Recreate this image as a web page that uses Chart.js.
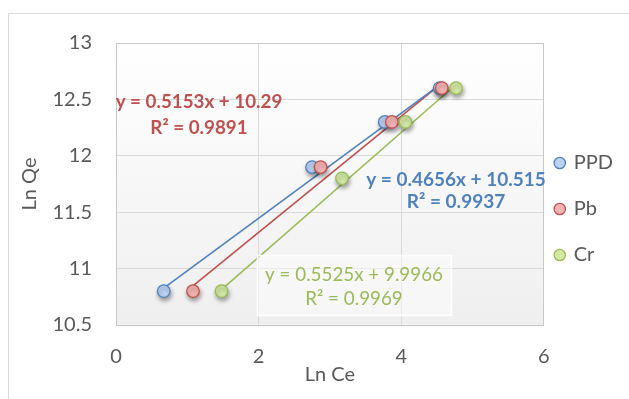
<!DOCTYPE html>
<html>
<head>
<meta charset="utf-8">
<script src="https://cdn.jsdelivr.net/npm/chart.js@4/dist/chart.umd.min.js"></script>
<style>
  html, body { margin: 0; padding: 0; background: #ffffff; }
  #wrap { width: 629px; height: 399px; position: relative; }
</style>
</head>
<body>
<div id="wrap"><canvas id="c" width="629" height="399"></canvas></div>
<script>
// Series names
const seriesNames = ['PPD', 'Pb', 'Cr'];

// Ln Ce values per series
const ppdX = [0.67, 2.75, 3.77, 4.54];
const pbX  = [1.08, 2.87, 3.87, 4.57];
const crX  = [1.48, 3.17, 4.06, 4.77];

// Ln Qe values per series
const ppdY = [10.8, 11.9, 12.3, 12.6];
const pbY  = [10.8, 11.9, 12.3, 12.6];
const crY  = [10.8, 11.8, 12.3, 12.6];

// Linear trend coefficients (slope, intercept) and R²
const slopes     = [0.4656, 0.5153, 0.5525];
const intercepts = [10.515, 10.29, 9.9966];
const rSquared   = ['0.9937', '0.9891', '0.9969'];

// Axis ticks
const xTicks = [0, 2, 4, 6];
const yTicks = [10.5, 11, 11.5, 12, 12.5, 13];

const lineColors = ['#4f81bd', '#c0504d', '#9bbb59'];
const fillColors = ['#bcd2f1', '#f3b3b2', '#d2e8a4'];

const xs = [ppdX, pbX, crX];
const ys = [ppdY, pbY, crY];

const toPoints = (xArr, yArr) => xArr.map((x, i) => ({ x: x, y: yArr[i] }));

function trendPoints(k) {
  const lo = Math.min(...xs[k]);
  const hi = Math.max(...xs[k]);
  return [lo, hi].map(x => ({ x: x, y: slopes[k] * x + intercepts[k] }));
}

function equationText(k) {
  return 'y = ' + slopes[k].toFixed(4) + 'x + ' + intercepts[k];
}

const markerOrder = [2, 1, 0];
const datasets = [];
seriesNames.forEach((name, k) => {
  datasets.push({
    label: name,
    data: toPoints(xs[k], ys[k]),
    showLine: false,
    pointRadius: 6.3,
    pointHoverRadius: 6.3,
    pointBorderWidth: 1.3,
    pointBackgroundColor: fillColors[k],
    pointBorderColor: lineColors[k],
    backgroundColor: fillColors[k],
    borderColor: lineColors[k],
    order: markerOrder[k],
    isMarker: true
  });
});
seriesNames.forEach((name, k) => {
  datasets.push({
    label: name + ' trend',
    data: trendPoints(k),
    showLine: true,
    pointRadius: 0,
    borderColor: lineColors[k],
    borderWidth: 1.6,
    order: 5 + k,
    isTrend: true
  });
});

// Equation labels placed over the plot area
const eqLayout = [
  { k: 0, cx: 456, y1: 180, y2: 202, bold: true,  size: 19,   box: false },
  { k: 1, cx: 199, y1: 102, y2: 128, bold: true,  size: 18.8, box: false },
  { k: 2, cx: 354, y1: 275, y2: 299, bold: false, size: 18.8, box: [257, 255, 194, 60] }
];

const framePlugin = {
  id: 'frame',
  beforeDraw(chart) {
    const ctx = chart.ctx;
    const a = chart.chartArea;
    ctx.save();
    ctx.strokeStyle = '#d9d9d9';
    ctx.lineWidth = 1;
    ctx.strokeRect(8.5, 13.5, 700, 500);
    const g = ctx.createLinearGradient(0, a.top, 0, a.bottom);
    g.addColorStop(0, '#ffffff');
    g.addColorStop(1, '#efefef');
    ctx.fillStyle = g;
    ctx.fillRect(a.left, a.top, a.right - a.left, a.bottom - a.top);
    ctx.restore();
  },
  beforeDatasetsDraw(chart) {
    const ctx = chart.ctx;
    const a = chart.chartArea;
    ctx.save();
    ctx.strokeStyle = '#c8c8c8';
    ctx.lineWidth = 1;
    ctx.strokeRect(Math.round(a.left) + 0.5, Math.round(a.top) + 0.5,
      Math.round(a.right - a.left) - 1, Math.round(a.bottom - a.top));
    ctx.restore();
  },
  beforeDatasetDraw(chart, args) {
    if (args.meta._dataset && args.meta._dataset.isMarker) {
      const ctx = chart.ctx;
      ctx.save();
      ctx.shadowColor = 'rgba(0,0,0,0.35)';
      ctx.shadowBlur = 4;
      ctx.shadowOffsetX = 1;
      ctx.shadowOffsetY = 3;
    }
  },
  afterDatasetDraw(chart, args) {
    if (args.meta._dataset && args.meta._dataset.isMarker) {
      chart.ctx.restore();
    }
  },
  afterDraw(chart) {
    const ctx = chart.ctx;
    ctx.save();
    ctx.textAlign = 'center';
    ctx.textBaseline = 'middle';
    eqLayout.forEach(e => {
      if (e.box) {
        ctx.fillStyle = 'rgba(255,255,255,0.45)';
        ctx.fillRect(e.box[0], e.box[1], e.box[2], e.box[3]);
        ctx.strokeStyle = '#ffffff';
        ctx.lineWidth = 1.5;
        ctx.strokeRect(e.box[0] + 0.5, e.box[1] + 0.5, e.box[2], e.box[3]);
      }
      ctx.fillStyle = lineColors[e.k];
      ctx.font = (e.bold ? 'bold ' : '') + e.size + 'px Lato, "Liberation Sans", sans-serif';
      ctx.fillText(equationText(e.k), e.cx, e.y1);
      ctx.fillText('R² = ' + rSquared[e.k], e.cx, e.y2);
    });
    ctx.restore();
  }
};

const tickFont = { family: 'Lato, "Liberation Sans", sans-serif', size: 20 };
const legendFont = { family: 'Lato, "Liberation Sans", sans-serif', size: 20, lineHeight: 1.7 };

new Chart(document.getElementById('c'), {
  type: 'scatter',
  data: { datasets: datasets },
  plugins: [framePlugin],
  options: {
    responsive: false,
    animation: false,
    devicePixelRatio: 1,
    layout: { padding: { left: 10, right: 6, top: 43, bottom: 10 } },
    plugins: {
      tooltip: { enabled: false },
      legend: {
        position: 'right',
        labels: {
          // one-line array text so each entry takes the font's full line height
          generateLabels: chart => Chart.defaults.plugins.legend.labels.generateLabels(chart)
            .filter(item => !datasets[item.datasetIndex].isTrend)
            .sort((a, b) => a.datasetIndex - b.datasetIndex)
            .map(item => Object.assign(item, { text: [item.text] })),
          usePointStyle: true,
          pointStyle: 'circle',
          boxWidth: 8,
          boxHeight: 8,
          padding: 12,
          color: '#595959',
          font: legendFont
        }
      }
    },
    scales: {
      x: {
        type: 'linear',
        min: xTicks[0],
        max: xTicks[xTicks.length - 1],
        afterBuildTicks: s => { s.ticks = xTicks.map(v => ({ value: v })); },
        afterFit: s => { s.height = 399 - 325 - 10; },
        ticks: { color: '#595959', font: tickFont, padding: 20, callback: v => String(v) },
        grid: { color: '#d9d9d9', drawTicks: false },
        border: { color: '#c8c8c8' },
        title: { display: true, text: 'Ln Ce', color: '#595959', font: tickFont, padding: { top: 0, bottom: 2 } }
      },
      y: {
        type: 'linear',
        min: yTicks[0],
        max: yTicks[yTicks.length - 1],
        afterBuildTicks: s => { s.ticks = yTicks.map(v => ({ value: v })); },
        afterFit: s => { s.width = 116 - 10; },
        ticks: { color: '#595959', font: tickFont, padding: 24, callback: v => String(v) },
        grid: { color: '#d9d9d9', drawTicks: false },
        border: { color: '#c8c8c8' },
        title: { display: true, text: 'Ln Qe', color: '#595959', font: tickFont, padding: { top: 8, bottom: 0 } }
      }
    }
  }
});
</script>
</body>
</html>
